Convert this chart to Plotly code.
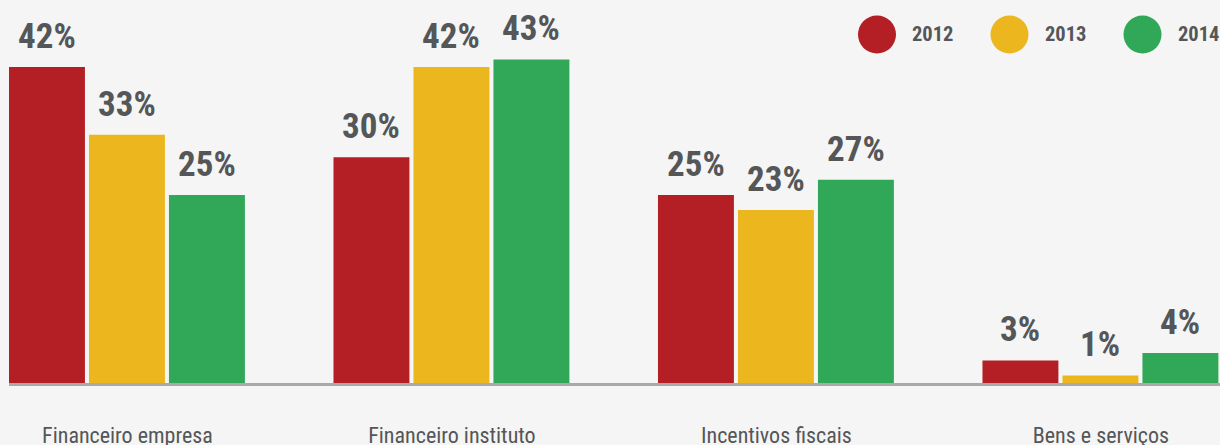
import plotly.graph_objects as go

categories = ["Financeiro empresa", "Financeiro instituto", "Incentivos fiscais", "Bens e serviços"]
years = ["2012", "2013", "2014"]
values_2012 = [42, 30, 25, 3]
values_2013 = [33, 42, 23, 1]
values_2014 = [25, 43, 27, 4]

series = [values_2012, values_2013, values_2014]
colors = ["#b31f24", "#ecb61e", "#31a758"]
text_color = "#555658"
bg = "#f4f5f4"
FONT = "Roboto Condensed, Liberation Sans Narrow, DejaVu Sans Condensed, sans-serif"

bar_w = 0.234
step = 0.2465
offsets = [-0.365 + k * step for k in range(3)]

fig = go.Figure()
xs = list(range(len(categories)))
annotations = []
for k, (yr, vals) in enumerate(zip(years, series)):
    fig.add_trace(go.Bar(
        x=xs, y=vals, name=yr, width=bar_w, offset=offsets[k],
        marker=dict(color=colors[k], line=dict(width=0)),
        showlegend=False, hoverinfo="skip",
    ))
    for i, v in enumerate(vals):
        annotations.append(dict(
            x=xs[i] + offsets[k] + bar_w / 2, y=v, xref="x", yref="y",
            text=f"<b>{v}%</b>", showarrow=False, yanchor="bottom", xanchor="center",
            yshift=8, font=dict(family=FONT, size=35, color=text_color),
        ))

# legend built from shapes/annotations
W = 1220 - 9
shapes = []
leg_centers_px = [877, 1009.5, 1142.5]
leg_y = (383 - 34.5) / 383
for k, yr in enumerate(years):
    cx = (leg_centers_px[k] - 9) / W
    shapes.append(dict(
        type="circle", xref="paper", yref="paper", xsizemode="pixel", ysizemode="pixel",
        xanchor=cx, yanchor=leg_y, x0=-19, x1=19, y0=-19, y1=19,
        fillcolor=colors[k], line=dict(width=0),
    ))
    annotations.append(dict(
        x=(leg_centers_px[k] + 33 - 9) / W, y=leg_y, xref="paper", yref="paper",
        text=f"<b>{yr}</b>", showarrow=False, xanchor="left", yanchor="middle",
        font=dict(family=FONT, size=20.5, color=text_color),
    ))

fig.update_layout(
    width=1220, height=445,
    margin=dict(l=9, r=0, t=0, b=62, autoexpand=False),
    paper_bgcolor=bg, plot_bgcolor=bg,
    annotations=annotations, shapes=shapes,
    showlegend=False,
    xaxis=dict(
        range=[-0.365, 3.367], tickvals=xs, ticktext=categories, automargin=False,
        showgrid=False, zeroline=False, showline=True, linecolor="#a8a9ab", linewidth=3,
        ticks="", ticklabelstandoff=31,
        tickfont=dict(family=FONT, size=22, color=text_color),
    ),
    yaxis=dict(range=[0, 50.9], visible=False, showgrid=False, zeroline=False, automargin=False),
)

fig.write_html("out.html", config={"displayModeBar": False},
               post_script="document.body.style.margin='0';")
